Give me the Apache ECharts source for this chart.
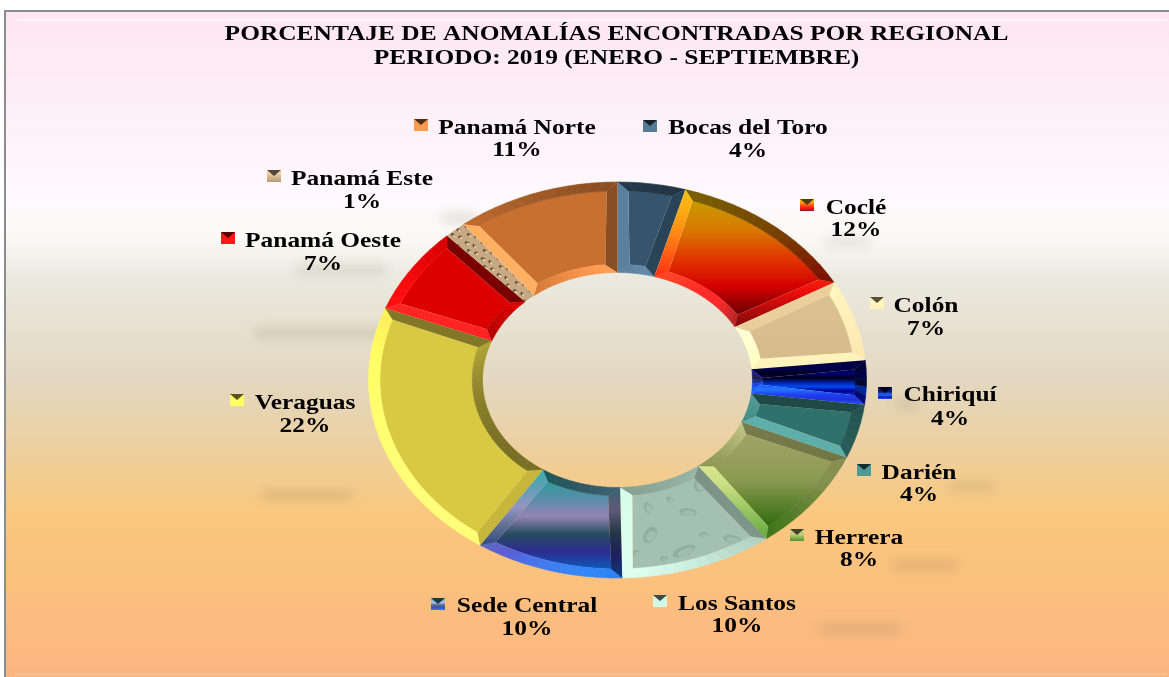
<!DOCTYPE html>
<html>
<head>
<meta charset="utf-8">
<style>
  html, body { margin: 0; padding: 0; background: #fff; }
  #chart { width: 1169px; height: 677px; }
</style>
<script src="https://cdn.jsdelivr.net/npm/echarts@6/dist/echarts.min.js"></script>
</head>
<body>
<div id="chart"></div>
<script>
// porcentaje por regional, clockwise from the top of the ring
const regions = ['Bocas del Toro', 'Coclé', 'Colón', 'Chiriquí', 'Darién', 'Herrera',
  'Los Santos', 'Sede Central', 'Veraguas', 'Panamá Oeste', 'Panamá Este', 'Panamá Norte']
const values = [4.4, 12.4, 6.6, 3.6, 4.4, 8.4, 9.9, 9.6, 21.6, 7.1, 1.4, 10.6]
const titleLines = ['PORCENTAJE DE ANOMALÍAS ENCONTRADAS POR REGIONAL', 'PERIODO: 2019 (ENERO - SEPTIEMBRE)']

// face colours, top to bottom of each slice
const faces = [
  ['#35556f', '#35556f'],
  ['#c89a00', '#d87a00', '#e03800', '#d40000', '#6a0000'],
  ['#dcc292', '#d6bc8c'],
  ['#000050', '#000078', '#000018', '#0020a0', '#0048f0', '#000090', '#0030c0'],
  ['#2f716d', '#2f716d'],
  ['#a0a468', '#8c9a50', '#2f6a10'],
  ['#9cbcac', '#a6c4b6'],
  ['#2d9c9c', '#5a8ca8', '#9484b4', '#274c60', '#2c2c90', '#0e58b8'],
  ['#d9c942', '#d9c942'],
  ['#dc0000', '#dc0000'],
  ['#cdb08a', '#8a7050'],
  ['#c87030', '#c87030']
]
// how hard the shaded bevels go dark; a negative one turns them pale instead
const darkGain = [1, 1, -0.6, 1, 1, 0.6, 0.5, 1, 1, 1, 1, 1]
// name centre x, name y, percent y, icon centre x, icon y
const labelSpots = [
  [748, 128, 151, 650, 126], [856, 208, 230, 807, 205], [926, 306, 329, 877, 303],
  [950, 395, 419, 885, 393], [919, 473, 495, 864, 470], [859, 538, 560, 797, 535],
  [737, 604, 626, 660, 601], [527, 606, 629, 438, 604], [305, 403, 426, 237, 400],
  [323, 241, 264, 228, 238], [362, 179, 202, 274, 176], [517, 128, 150, 421, 125]
]
const smudges = [
  [255, 330, 140, 6], [262, 492, 90, 6], [892, 562, 66, 6], [820, 626, 80, 6], [950, 484, 44, 5],
  [296, 267, 90, 5], [442, 215, 34, 6], [826, 239, 44, 5], [895, 402, 24, 5]
]

const CX = 617.5, CY = 380
const OUT_X = 249, OUT_Y = 198, IN_X = 135, IN_Y = 107.5
const LIGHT = [-0.7, 0.7]

const total = values.reduce((a, b) => a + b, 0)
const starts = []
values.reduce((sum, v, i) => { starts[i] = sum / total * Math.PI * 2; return sum + v }, 0)

function hexRgb(h) { return [1, 3, 5].map(i => parseInt(h.substr(i, 2), 16)) }
function mix(a, b, t) { return a.map((v, i) => v + (b[i] - v) * t) }
function rgb(c) { return 'rgb(' + c.map(v => Math.max(0, Math.min(255, Math.round(v)))).join(',') + ')' }
function stopsAt(list, t) {
  const p = Math.max(0, Math.min(0.9999, t)) * (list.length - 1)
  const i = Math.floor(p)
  return mix(hexRgb(list[i]), hexRgb(list[i + 1]), p - i)
}
function grad(list) {
  return new echarts.graphic.LinearGradient(0, 0, 0, 1,
    list.map((c, i) => ({ offset: i / (list.length - 1), color: c })))
}
function pt(theta, u) {
  const rx = IN_X + (OUT_X - IN_X) * u
  const ry = IN_Y + (OUT_Y - IN_Y) * u
  return [CX + rx * Math.sin(theta), CY - ry * Math.cos(theta)]
}
function brighten(c, d) {
  const k = 1 + d * 0.45
  return mix(c.map(v => v * k), [255, 255, 255], d * 0.16)
}
function shaded(base, normal, gain) {
  const d = normal[0] * LIGHT[0] + normal[1] * LIGHT[1]
  if (d > 0) return rgb(brighten(base, d))
  return gain < 0 ? rgb(brighten(base, -d * -gain)) : rgb(base.map(v => v * (1 + d * 0.45 * gain)))
}
function poly(points, fill) {
  return { type: 'polygon', shape: { points }, style: { fill, stroke: fill, lineWidth: 0.6 } }
}

// hand placed blobs for the two photo-textured slices
function texture(bg, dark, light, blobs, w, h) {
  const c = document.createElement('canvas')
  c.width = w; c.height = h
  const g = c.getContext('2d')
  g.fillStyle = bg; g.fillRect(0, 0, w, h)
  blobs.forEach(b => {
    g.beginPath(); g.ellipse(b[0], b[1], b[2], b[3], b[4], 0, Math.PI * 2)
    g.fillStyle = dark; g.fill()
    g.beginPath(); g.ellipse(b[0] + 1, b[1] + 1, b[2] * 0.7, b[3] * 0.65, b[4], 0, Math.PI * 2)
    g.fillStyle = light; g.fill()
  })
  return c
}
const waterTex = texture('#a3c1b2', 'rgba(100,135,120,.3)', 'rgba(178,205,192,.5)', [
  [12, 14, 9, 4, 0.2], [50, 10, 6, 9, 0.6], [84, 26, 12, 5, -0.4], [28, 46, 7, 5, 0.9],
  [68, 58, 16, 6, -0.3], [100, 64, 6, 8, 0.4], [16, 78, 10, 5, 0.3], [48, 88, 6, 4, 1.1],
  [88, 92, 9, 4, 0.1], [36, 28, 4, 3, 0.2], [112, 44, 5, 3, 0.7], [64, 34, 4, 3, 0.4],
  [8, 60, 4, 3, 0.9], [104, 10, 5, 3, 0.2], [38, 66, 5, 4, 0.2], [70, 80, 4, 3, 0.8]
], 120, 105)
const gravelTex = texture('#c6a982', 'rgba(85,65,40,.85)', 'rgba(236,218,190,.95)', [
  [3, 3, 2.5, 1.6, 0.3], [10, 6, 2, 1.5, 1], [5, 11, 2.4, 1.4, 0.6], [12, 13, 1.8, 1.5, 0.1]
], 16, 16)
const textures = { 6: waterTex, 10: gravelTex }

function renderSlice(params, api) {
  const i = params.dataIndex
  const a0 = starts[i]
  const a1 = a0 + api.value(0) / total * Math.PI * 2
  const span = a1 - a0
  const list = faces[i]
  const gain = darkGain[i]
  const flat = i === 10   // the gravel sliver has no visible bevel
  const kids = []
  const dO = flat ? 0 : Math.min(10 / 220, span * 0.4)
  const dI = flat ? 0 : Math.min(10 / 120, span * 0.4)
  const U_OUT = flat ? 1 : 0.9, U_IN = flat ? 0 : 0.09

  // slice bounding box, so the bevel colour follows the face gradient
  const steps = Math.max(3, Math.ceil(span / (Math.PI / 60)))
  let yMin = 1e9, yMax = -1e9
  for (let s = 0; s <= steps; s++) {
    const th = a0 + span * s / steps
    ;[pt(th, 0), pt(th, 1)].forEach(p => { yMin = Math.min(yMin, p[1]); yMax = Math.max(yMax, p[1]) })
  }
  const baseAt = y => stopsAt(list, (y - yMin) / (yMax - yMin))

  // a straight side follows the face colours along its length
  const side = (points, normal) => {
    const ys = points.map(p => p[1])
    const top = Math.min(...ys), bottom = Math.max(...ys)
    const shades = [0, 0.25, 0.5, 0.75, 1].map(t => shaded(baseAt(top + (bottom - top) * t), normal, gain))
    return { type: 'polygon', shape: { points }, style: { fill: grad(shades) } }
  }

  // face
  const face = []
  for (let s = 0; s <= steps; s++) face.push(pt(a0 + dO + (span - 2 * dO) * s / steps, U_OUT))
  for (let s = steps; s >= 0; s--) face.push(pt(a0 + dI + (span - 2 * dI) * s / steps, U_IN))
  const faceFill = textures[i] ? { image: textures[i], repeat: 'repeat' } : grad(list)
  kids.push({ type: 'polygon', shape: { points: face }, style: { fill: faceFill } })

  if (!flat) {
    // rim bands, cut into short pieces so that the light changes along the arc
    for (let s = 0; s < steps; s++) {
      const t0 = s / steps, t1 = (s + 1) / steps
      const thO0 = a0 + span * t0, thO1 = a0 + span * t1
      const fO0 = a0 + dO + (span - 2 * dO) * t0, fO1 = a0 + dO + (span - 2 * dO) * t1
      const fI0 = a0 + dI + (span - 2 * dI) * t0, fI1 = a0 + dI + (span - 2 * dI) * t1
      const mid = (thO0 + thO1) / 2
      const o = [pt(thO0, 1), pt(thO1, 1), pt(fO1, U_OUT), pt(fO0, U_OUT)]
      kids.push(poly(o, shaded(baseAt(o[0][1]), [Math.sin(mid), -Math.cos(mid)], gain)))
      const n = [pt(thO0, 0), pt(thO1, 0), pt(fI1, U_IN), pt(fI0, U_IN)]
      kids.push(poly(n, shaded(baseAt(n[0][1]), [-Math.sin(mid), Math.cos(mid)], gain)))
    }
    kids.push(side([pt(a0, 1), pt(a0, 0), pt(a0 + dI, U_IN), pt(a0 + dO, U_OUT)], [-Math.cos(a0), -Math.sin(a0)]))
    kids.push(side([pt(a1, 1), pt(a1, 0), pt(a1 - dI, U_IN), pt(a1 - dO, U_OUT)], [Math.cos(a1), Math.sin(a1)]))
  }

  // label and key
  const spot = labelSpots[i]
  const textStyle = { fill: '#000', fontFamily: 'Liberation Serif', fontWeight: 'bold', fontSize: 22, align: 'center', verticalAlign: 'middle' }
  kids.push({ type: 'text', x: spot[0], y: spot[1], scaleX: 1.155, style: { ...textStyle, text: regions[i] } })
  kids.push({ type: 'text', x: spot[0], y: spot[2], scaleX: 1.155, style: { ...textStyle, text: Math.round(api.value(0)) + '%' } })
  const ix = spot[3] - 7, iy = spot[4] - 6
  const icon = grad(list.map(c => rgb(brighten(hexRgb(c), 0.6))))
  kids.push({ type: 'rect', shape: { x: ix, y: iy, width: 14, height: 12 }, style: { fill: icon } })
  kids.push({ type: 'polygon', shape: { points: [[ix, iy], [ix + 14, iy], [ix + 7, iy + 6]] }, style: { fill: rgb(mix(stopsAt(list, 0), [0, 0, 0], 0.6)) } })

  return { type: 'group', children: kids }
}

const bg = new echarts.graphic.LinearGradient(0, 0, 0, 1, [
  { offset: 0, color: '#fde6f0' },
  { offset: 0.14, color: '#fdeff7' },
  { offset: 0.28, color: '#fff9fd' },
  { offset: 0.34, color: '#fbf9f6' },
  { offset: 0.40, color: '#ebe9df' },
  { offset: 0.56, color: '#e3d7bf' },
  { offset: 0.70, color: '#f2cc90' },
  { offset: 0.76, color: '#fbc77d' },
  { offset: 1, color: '#fbb680' }
])

const graphics = [
  { type: 'rect', z: 0, shape: { x: 5, y: 11, width: 1164, height: 666 }, style: { fill: bg } },
  { type: 'rect', z: 0, shape: { x: 4, y: 10, width: 1165, height: 2 }, style: { fill: '#8c8c8c' } },
  { type: 'rect', z: 0, shape: { x: 4, y: 10, width: 2, height: 667 }, style: { fill: '#8c8c8c' } },
  { type: 'rect', z: 0, shape: { x: 17, y: 19, width: 1150, height: 2 }, style: { fill: 'rgba(255,255,255,.6)' } },
  { type: 'rect', z: 0, shape: { x: 15, y: 673, width: 1152, height: 2 }, style: { fill: 'rgba(255,255,255,.12)' } }
]
// soft drop shadows behind the labels: only the shadow lands on the canvas, the rect sits off it
smudges.forEach(s => {
  graphics.push({
    type: 'rect', z: 1, shape: { x: s[0] - 3000, y: s[1], width: s[2], height: s[3] },
    style: { fill: '#000', shadowBlur: 12, shadowOffsetX: 3000, shadowColor: 'rgba(110,100,70,.3)' }
  })
})
titleLines.forEach((line, i) => {
  graphics.push({
    type: 'text', z: 2, x: 616.5, y: 35 + i * 24, scaleX: 1.21,
    style: { text: line, fill: '#000', fontFamily: 'Liberation Serif', fontWeight: 'bold', fontSize: 21, align: 'center', verticalAlign: 'middle' }
  })
})

const chart = echarts.init(document.getElementById('chart'), null, { renderer: 'canvas' })
chart.setOption({
  animation: false,
  backgroundColor: '#fff',
  graphic: { elements: graphics },
  series: [{
    type: 'custom',
    coordinateSystem: 'none',
    z: 5,
    silent: true,
    data: values,
    renderItem: renderSlice
  }]
})
</script>
</body>
</html>
